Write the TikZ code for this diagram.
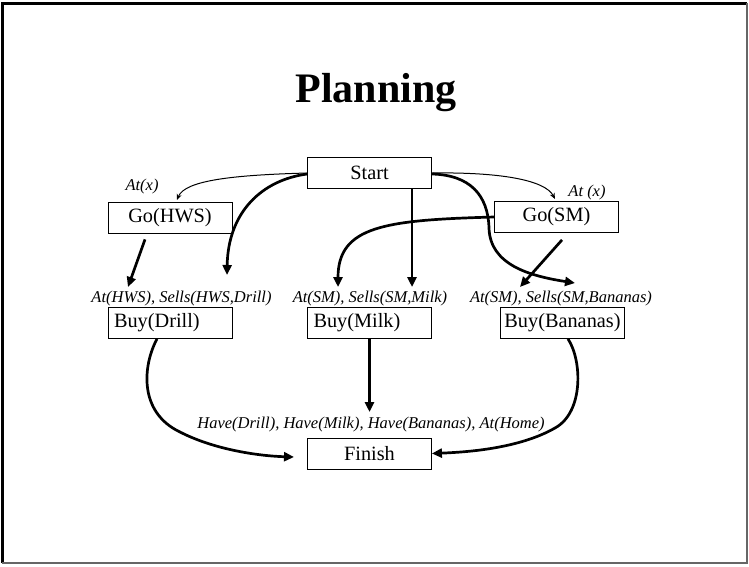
\documentclass[tikz,border=0pt]{standalone}
\usepackage{fontspec}
\setmainfont{Liberation Serif}
\usetikzlibrary{arrows.meta}

\begin{document}
\begin{tikzpicture}[x=1pt,y=-1pt,
	box/.style={draw,thick,minimum width=124pt,minimum height=31pt,inner sep=0pt,
		font=\fontsize{20.3}{24}\selectfont},
	buybox/.style={box,text width=112pt,align=left},
	cond/.style={anchor=base,inner sep=0pt,font=\fontsize{16.5}{19}\selectfont\itshape},
	thinarr/.style={line width=1pt,-{Stealth[length=6pt,width=5pt]}},
	thickarr/.style={line width=2.7pt,-{Triangle[length=10pt,width=9pt]}}]
	\useasboundingbox (0,0) rectangle (749,566);
	% frame
	\draw[line width=3pt] (2,563) -- (2,3) -- (747,3);
	\draw[line width=2pt,black!60] (747,3) -- (747,563) -- (2,563);
	\node[anchor=base,font=\fontsize{42}{48}\selectfont\bfseries] (title) at (376,102) {Planning};
	% steps
	\node[box] (start) at (369.5,173) {Start};
	\node[box] (gohws) at (170,217.5) {Go(HWS)};
	\node[box] (gosm) at (556.5,217) {Go(SM)};
	\node[buybox] (buydrill) at (170,323) {Buy(Drill)};
	\node[buybox] (buymilk) at (369.5,323) {Buy(Milk)};
	\node[box] (buyban) at (562.5,323) {Buy(Bananas)};
	\node[box] (finish) at (369.5,453.5) {Finish};
	% preconditions
	\node[cond] (atx1) at (142,190) {At(x)};
	\node[cond] (atx2) at (587,196) {At (x)};
	\node[cond] (pre1) at (181.5,302) {At(HWS), Sells(HWS,Drill)};
	\node[cond] (pre2) at (370,302) {At(SM), Sells(SM,Milk)};
	\node[cond] (pre3) at (561,302) {At(SM), Sells(SM,Bananas)};
	\node[cond] (goal) at (371,428) {Have(Drill), Have(Milk), Have(Bananas), At(Home)};
	% arrow ends
	\coordinate (hwsa) at (177,200);
	\coordinate (sma) at (555,199);
	\coordinate (drilla) at (128,287);
	\coordinate (drillb) at (227,275);
	\coordinate (milka) at (338,287);
	\coordinate (milkb) at (412,287);
	\coordinate (bana) at (520,287);
	\coordinate (banb) at (575,283);
	\coordinate (goalm) at (369.5,412);
	\coordinate (fin) at (294,457);
	% links
	\draw[thinarr] (start.west) .. controls (235,175) and (185,180) .. (hwsa);
	\draw[thinarr] (start.east) .. controls (500,172) and (545,180) .. (sma);
	\draw[thickarr] ([yshift=-1pt]start.west) .. controls (262,180) and (228,212) .. (drillb);
	\draw[thickarr] ([xshift=-25pt,yshift=-6pt]gohws.south) -- (drilla);
	\draw[thickarr] ([xshift=42.5pt]start.south) -- (milkb);
	\draw[thickarr] (gosm.west) .. controls (385,220) and (338,226) .. (milka);
	\draw[thickarr] ([yshift=-1pt]start.east) .. controls (470,175) and (488,195) .. (489,228)
		.. controls (490,265) and (530,276) .. (banb);
	\draw[thickarr] ([xshift=5.5pt,yshift=-7pt]gosm.south) -- (bana);
	\draw[thickarr] ([xshift=-13pt]buydrill.south) .. controls (143,365) and (138,412) .. (180,432)
		.. controls (215,450) and (260,456) .. (fin);
	\draw[thickarr] (buymilk.south) -- (goalm);
	\draw[thickarr] ([xshift=5.5pt]buyban.south) .. controls (582,360) and (584,412) .. (555,428)
		.. controls (520,448) and (470,452) .. (finish.east);
\end{tikzpicture}
\end{document}
